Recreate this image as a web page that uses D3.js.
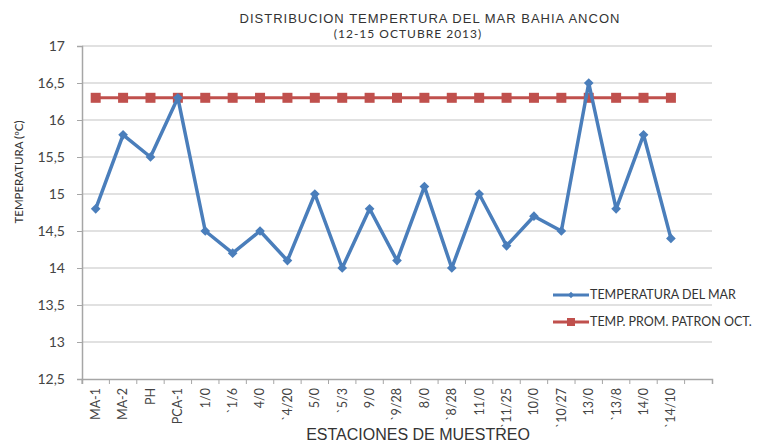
<!DOCTYPE html>
<html>
<head>
<meta charset="utf-8">
<script src="https://cdn.jsdelivr.net/npm/d3@7"></script>
<style>
  body { margin: 0; background: #fff; }
  svg { display: block; }
</style>
</head>
<body>
<script>
// station names along the x axis (last slot is left empty, as in the original)
var stations = ["MA-1","MA-2","PH","PCA-1","1/0","`1/6","4/0","`4/20","5/0","`5/3","9/0","`9/28",
                "8/0","`8/28","11/0","`11/25","10/0","`10/27","13/0","`13/8","14/0","`14/10",""];
var tempMar = [14.8,15.8,15.5,16.3,14.5,14.2,14.5,14.1,15.0,14.0,14.8,14.1,
               15.1,14.0,15.0,14.3,14.7,14.5,16.5,14.8,15.8,14.4];
var tempPatron = [16.3,16.3,16.3,16.3,16.3,16.3,16.3,16.3,16.3,16.3,16.3,16.3,
                  16.3,16.3,16.3,16.3,16.3,16.3,16.3,16.3,16.3,16.3];
var yTicks = [12.5,13,13.5,14,14.5,15,15.5,16,16.5,17];
var seriesNames = ["TEMPERATURA DEL MAR","TEMP. PROM. PATRON OCT."];

var width = 758, height = 443;
var margin = {top: 46, right: 46, bottom: 64, left: 82};
var blue = "#4a7ebb", red = "#c0504d";

var svg = d3.select("body").append("svg")
    .attr("width", width)
    .attr("height", height);

var x = d3.scaleBand()
    .domain(stations.map(function(d, i){ return i; }))
    .range([margin.left, width - margin.right]);

var y = d3.scaleLinear()
    .domain([12.5, 17])
    .range([height - margin.bottom, margin.top]);

//title
svg.append("text")
    .attr("x", 430).attr("y", 23)
    .attr("text-anchor", "middle")
    .style("font-family", "Liberation Sans, Arial, sans-serif")
    .style("font-size", "13px")
    .style("letter-spacing", "1px")
    .style("fill", "#333")
    .text("DISTRIBUCION TEMPERTURA DEL MAR BAHIA ANCON");
svg.append("text")
    .attr("x", 408).attr("y", 38)
    .attr("text-anchor", "middle")
    .style("font-family", "Lato, sans-serif")
    .style("font-size", "12px")
    .style("letter-spacing", "1px")
    .style("fill", "#333")
    .text("(12-15 OCTUBRE 2013)");

//gridlines
svg.append("g")
    .selectAll("line")
    .data(yTicks.slice(1))
    .enter().append("line")
    .attr("x1", margin.left).attr("x2", width - margin.right)
    .attr("y1", function(d){ return y(d); })
    .attr("y2", function(d){ return y(d); })
    .attr("stroke", "#c4c4c4")
    .attr("stroke-width", 1.2);

//y axis
var yAxis = svg.append("g")
    .attr("transform", "translate(" + margin.left + ",0)")
    .call(d3.axisLeft(y).tickValues(yTicks).tickSize(5)
        .tickFormat(function(d){ return String(d).replace(".", ","); }));
yAxis.select(".domain").attr("stroke", "#a6a6a6").attr("stroke-width", 1.5);
yAxis.selectAll(".tick line").attr("stroke", "#a6a6a6");
yAxis.selectAll("text")
    .attr("x", -17)
    .style("font-family", "Lato, sans-serif")
    .style("font-size", "14px")
    .style("fill", "#444");

//x axis
var xAxis = svg.append("g")
    .attr("transform", "translate(0," + (height - margin.bottom) + ")")
    .call(d3.axisBottom(x).tickSize(5).tickSizeOuter(5)
        .tickFormat(function(i){ return stations[i]; }));
xAxis.select(".domain").attr("stroke", "#a6a6a6").attr("stroke-width", 1.5);
xAxis.selectAll(".tick line")
    .attr("stroke", "#a6a6a6")
    .attr("transform", "translate(" + (-x.bandwidth() / 2) + ",0)");
xAxis.selectAll("text")
    .attr("transform", "rotate(-90)")
    .attr("x", -9).attr("y", 0).attr("dy", "0.35em")
    .attr("text-anchor", "end")
    .style("font-family", "Lato, sans-serif")
    .style("font-size", "12.5px")
    .style("fill", "#444");

//axis titles
svg.append("text")
    .attr("transform", "translate(23,172) rotate(-90)")
    .attr("text-anchor", "middle")
    .style("font-family", "Lato, sans-serif")
    .style("font-size", "11.5px")
    .style("fill", "#333")
    .text("TEMPERATURA (ºC)");
svg.append("text")
    .attr("x", 418).attr("y", 440)
    .attr("text-anchor", "middle")
    .style("font-family", "Liberation Sans, Arial, sans-serif")
    .style("font-size", "16px")
    .style("fill", "#333")
    .text("ESTACIONES DE MUESTREO");

var cx = function(d, i){ return x(i) + x.bandwidth() / 2; };
var line = d3.line().x(cx).y(function(d){ return y(d); });

//patron series (red squares)
svg.append("path")
    .datum(tempPatron)
    .attr("d", line)
    .attr("fill", "none")
    .attr("stroke", red)
    .attr("stroke-width", 3);
svg.selectAll(".sq")
    .data(tempPatron)
    .enter().append("rect")
    .attr("class", "sq")
    .attr("x", function(d, i){ return cx(d, i) - 5; })
    .attr("y", function(d){ return y(d) - 5; })
    .attr("width", 10).attr("height", 10)
    .attr("fill", red);

//temperature series (blue diamonds)
var diamond = d3.symbol().type(d3.symbolDiamond2).size(60);
svg.append("path")
    .datum(tempMar)
    .attr("d", line)
    .attr("fill", "none")
    .attr("stroke", blue)
    .attr("stroke-width", 3.5)
    .attr("stroke-linejoin", "round");
svg.selectAll(".dm")
    .data(tempMar)
    .enter().append("path")
    .attr("class", "dm")
    .attr("transform", function(d, i){ return "translate(" + cx(d, i) + "," + y(d) + ")"; })
    .attr("d", diamond)
    .attr("fill", blue);

//legend
var legend = svg.append("g");
var legendColors = [blue, red];
seriesNames.forEach(function(name, i){
    var ly = 295 + i * 27;
    var g = legend.append("g");
    g.append("line")
        .attr("x1", 553).attr("x2", 589)
        .attr("y1", ly).attr("y2", ly)
        .attr("stroke", legendColors[i]).attr("stroke-width", 3);
    if (i == 0) {
        g.append("path")
            .attr("transform", "translate(" + 571 + "," + ly + ")")
            .attr("d", d3.symbol().type(d3.symbolDiamond2).size(25))
            .attr("fill", blue);
    } else {
        g.append("rect")
            .attr("x", 567).attr("y", ly - 4)
            .attr("width", 8).attr("height", 8)
            .attr("fill", red);
    }
    g.append("text")
        .attr("x", 590).attr("y", ly).attr("dy", "0.35em")
        .style("font-family", "Lato, sans-serif")
        .style("font-size", "12.5px")
        .style("fill", "#333")
        .text(name);
});
</script>
</body>
</html>
